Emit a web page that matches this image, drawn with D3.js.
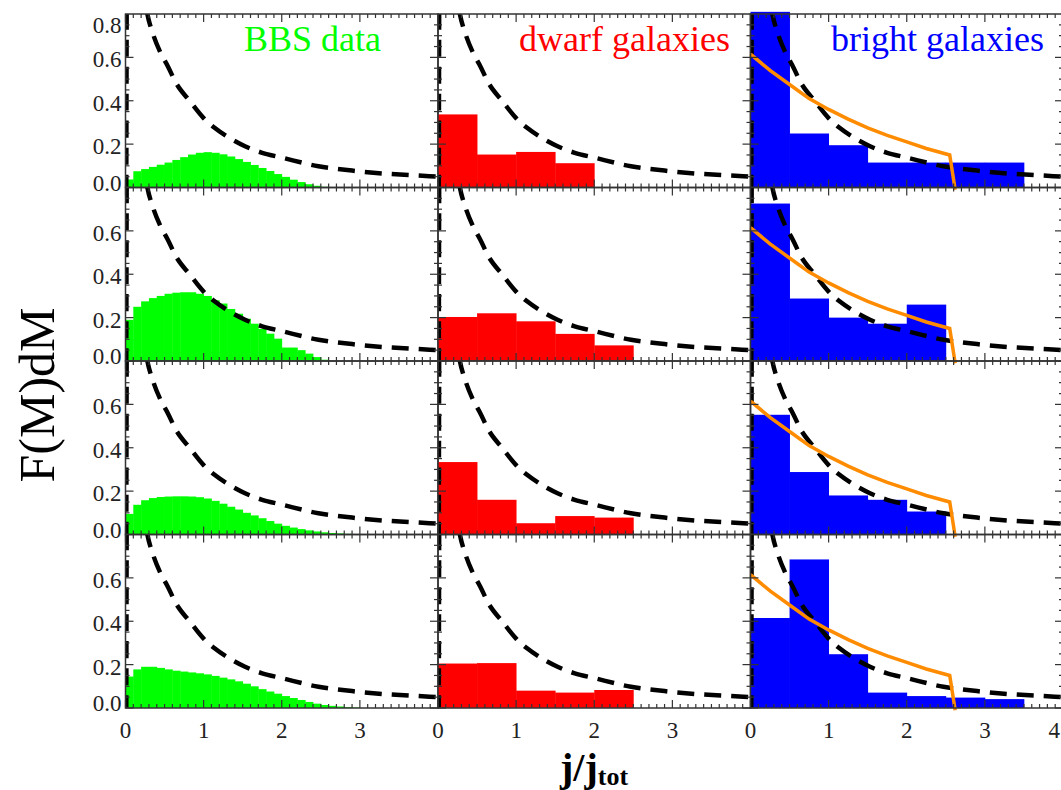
<!DOCTYPE html>
<html>
<head>
<meta charset="utf-8">
<script src="https://cdn.jsdelivr.net/npm/d3@7"></script>
<style>
  body { margin: 0; background: #fff; }
  svg { display: block; font-family: "Liberation Serif", "DejaVu Serif", serif; }
</style>
</head>
<body>
<div id="container"></div>
<script>
/* CONSTANTS AND GLOBALS */
const width = 1061;
const height = 790;
const leftM = 125.5;
const panelW = 312.5;
const topM = 14;
const rowH = 173.5;

// DATA
const panelNames = ["BBS data", "dwarf galaxies", "bright galaxies"];
const panelColors = ["#00ff00", "#ff0000", "#0000ff"];
const xTicks = [0, 1, 2, 3, 4];
const yTicks = [0, 0.2, 0.4, 0.6, 0.8];
const xTickLabels = ["0", "1", "2", "3", "4"];
const yTickLabels = ["0.0", "0.2", "0.4", "0.6", "0.8"];

// BBS histograms, bins of 0.1 starting at 0
const bbsBinWidth = 0.1;
const bbsRow1 = [0.037, 0.075, 0.085, 0.095, 0.105, 0.115, 0.127, 0.140, 0.152, 0.160,
                 0.163, 0.160, 0.153, 0.143, 0.131, 0.118, 0.104, 0.090, 0.076, 0.062,
                 0.049, 0.036, 0.025, 0.015, 0.008, 0.003];
const bbsRow2 = [0.190, 0.250, 0.275, 0.290, 0.300, 0.310, 0.315, 0.317, 0.317, 0.310,
                 0.300, 0.280, 0.265, 0.240, 0.218, 0.195, 0.172, 0.148, 0.126, 0.103,
                 0.062, 0.062, 0.050, 0.034, 0.018, 0.006];
const bbsRow3 = [0.095, 0.137, 0.158, 0.168, 0.173, 0.175, 0.176, 0.176, 0.175, 0.172,
                 0.166, 0.155, 0.142, 0.128, 0.115, 0.100, 0.088, 0.075, 0.062, 0.050,
                 0.040, 0.032, 0.025, 0.019, 0.014, 0.010, 0.007, 0.005, 0.003, 0.002];
const bbsRow4 = [0.145, 0.178, 0.190, 0.190, 0.185, 0.178, 0.172, 0.168, 0.164, 0.160,
                 0.155, 0.148, 0.140, 0.132, 0.123, 0.112, 0.100, 0.087, 0.076, 0.066,
                 0.055, 0.046, 0.037, 0.028, 0.020, 0.014, 0.010, 0.007, 0.004, 0.002];

// galaxy histograms, bins of 0.5
const galBins = [0, 0.5, 1, 1.5, 2, 2.5, 3];
const galBinWidth = 0.5;
const dwarfRow1 = [0.337, 0.152, 0.164, 0.112];
const dwarfRow2 = [0.203, 0.220, 0.183, 0.125, 0.072];
const dwarfRow3 = [0.334, 0.160, 0.052, 0.085, 0.078];
const dwarfRow4 = [0.205, 0.207, 0.080, 0.071, 0.083];
const brightRow1 = [0.81, 0.249, 0.195, 0.115, 0.115, 0.115, 0.115];
const brightRow2 = [0.726, 0.288, 0.200, 0.172, 0.260];
const brightRow3 = [0.552, 0.288, 0.180, 0.160, 0.106];
const brightRow4 = [0.415, 0.685, 0.248, 0.071, 0.055, 0.048, 0.041];

// dashed model curve
const dashedX = [0.01, 0.02, 0.2, 0.28, 0.35, 0.45, 0.54, 0.65, 0.82, 1.0, 1.14, 1.3, 1.53, 1.75, 2.0, 2.47, 2.9, 3.32, 3.65, 4.0];
const dashedY = [-0.02, 1.2, 1.0, 0.80, 0.71, 0.62, 0.56, 0.48, 0.40, 0.32, 0.275, 0.235, 0.19, 0.16, 0.138, 0.098, 0.078, 0.064, 0.057, 0.05];

// orange fit (bright galaxies)
const fitX = [0, 0.25, 0.5, 0.75, 1.0, 1.25, 1.5, 1.75, 2.0, 2.25, 2.55, 2.62];
const fitY = [0.615, 0.54, 0.475, 0.41, 0.36, 0.315, 0.275, 0.24, 0.21, 0.18, 0.15, -0.01];

const bbsRows = [bbsRow1, bbsRow2, bbsRow3, bbsRow4];
const dwarfRows = [dwarfRow1, dwarfRow2, dwarfRow3, dwarfRow4];
const brightRows = [brightRow1, brightRow2, brightRow3, brightRow4];

const svg = d3.select("#container")
  .append("svg")
  .attr("width", width)
  .attr("height", height);

const defs = svg.append("defs");
const frameColor = "#333";

for (let r = 0; r < 4; r++) {
  for (let c = 0; c < 3; c++) {
    const x0 = leftM + c * panelW;
    const y0 = topM + r * rowH;
    const xScale = d3.scaleLinear().domain([0, 4]).range([x0, x0 + panelW]);
    const yScale = d3.scaleLinear().domain([0, 0.8]).range([y0 + rowH, y0]);

    const clipId = `clip-${r}-${c}`;
    defs.append("clipPath").attr("id", clipId)
      .append("rect")
      .attr("x", x0).attr("y", y0)
      .attr("width", panelW).attr("height", rowH);

    const g = svg.append("g");

    // histogram
    let bins;
    if (c === 0) {
      bins = bbsRows[r].map((v, i) => ({x: i * bbsBinWidth, w: bbsBinWidth, v: v}));
    } else {
      const vals = c === 1 ? dwarfRows[r] : brightRows[r];
      bins = vals.map((v, i) => ({x: galBins[i], w: galBinWidth, v: v}));
    }
    g.selectAll("rect.bar")
      .data(bins)
      .join("rect")
      .attr("class", "bar")
      .attr("x", d => xScale(d.x))
      .attr("width", d => xScale(d.x + d.w) - xScale(d.x) + 0.4)
      .attr("y", d => yScale(d.v))
      .attr("height", d => yScale(0) - yScale(d.v))
      .attr("fill", panelColors[c]);

    // dashed curve
    const lineGen = d3.line()
      .x(d => xScale(d[0]))
      .y(d => yScale(d[1]))
      .curve(d3.curveMonotoneX);

    g.append("path")
      .datum(dashedX.map((x, i) => [x, dashedY[i]]))
      .attr("clip-path", `url(#${clipId})`)
      .attr("fill", "none")
      .attr("stroke", "#000")
      .attr("stroke-width", 4.5)
      .attr("stroke-dasharray", "17,10")
      .attr("d", lineGen);

    if (c === 2) {
      g.append("path")
        .datum(fitX.map((x, i) => [x, fitY[i]]))
        .attr("fill", "none")
        .attr("stroke", "#ff8c00")
        .attr("stroke-width", 3.5)
        .attr("d", d3.line().x(d => xScale(d[0])).y(d => yScale(d[1])).curve(d3.curveLinear));
    }

    // frame
    g.append("rect")
      .attr("x", x0).attr("y", y0)
      .attr("width", panelW).attr("height", rowH)
      .attr("fill", "none")
      .attr("stroke", frameColor)
      .attr("stroke-width", 1.5);

    // ticks, inward on all four sides
    const xMinor = d3.range(0, 40).map(i => i / 10);
    const yMinor = d3.range(0, 16).map(i => i / 20);
    const tickG = g.append("g").attr("stroke", frameColor).attr("stroke-width", 1.2);
    xMinor.forEach(t => {
      const len = Math.abs(t - Math.round(t)) < 1e-6 ? 8 : 4;
      const px = xScale(t);
      tickG.append("line").attr("x1", px).attr("x2", px).attr("y1", y0 + rowH).attr("y2", y0 + rowH - len);
      tickG.append("line").attr("x1", px).attr("x2", px).attr("y1", y0).attr("y2", y0 + len);
    });
    yMinor.forEach(t => {
      const len = Math.abs(t * 5 - Math.round(t * 5)) < 1e-6 ? 8 : 4;
      const py = yScale(t);
      tickG.append("line").attr("x1", x0).attr("x2", x0 + len).attr("y1", py).attr("y2", py);
      tickG.append("line").attr("x1", x0 + panelW).attr("x2", x0 + panelW - len).attr("y1", py).attr("y2", py);
    });

    // y tick labels
    if (c === 0) {
      yTicks.forEach((t, i) => {
        if (t === 0.8 && r > 0) return;
        const cy = Math.max(y0 + 11, Math.min(y0 + rowH - 5, yScale(t) + 2));
        svg.append("text")
          .attr("x", x0 - 4)
          .attr("y", cy)
          .attr("dy", "0.35em")
          .attr("text-anchor", "end")
          .style("font-size", "23px")
          .style("fill", "#222")
          .text(yTickLabels[i]);
      });
    }

    // x tick labels
    if (r === 3) {
      xTicks.forEach((t, i) => {
        if (t === 4 && c < 2) return;
        const last = t === 4;
        svg.append("text")
          .attr("x", last ? width - 1 : xScale(t))
          .attr("y", 730)
          .attr("dy", "0.35em")
          .attr("text-anchor", last ? "end" : "middle")
          .style("font-size", "23px")
          .style("fill", "#222")
          .text(xTickLabels[i]);
      });
    }
  }
}

// panel titles
const titleX = [244, 519, 831];
panelNames.forEach((name, c) => {
  svg.append("text")
    .attr("x", titleX[c])
    .attr("y", 51)
    .style("font-size", "36px")
    .style("fill", panelColors[c])
    .text(name);
});

// Y label
svg.append("text")
  .attr("transform", "translate(54,395) rotate(-90)")
  .attr("text-anchor", "middle")
  .style("font-size", "50px")
  .style("fill", "#000")
  .text("F(M)dM");

// X label
const xLabel = svg.append("text")
  .attr("x", 560)
  .attr("y", 781)
  .style("font-size", "40px")
  .style("font-weight", "bold")
  .style("fill", "#000");
xLabel.append("tspan").text("j/j");
xLabel.append("tspan").attr("dy", 4).style("font-size", "26px").text("tot");
</script>
</body>
</html>
